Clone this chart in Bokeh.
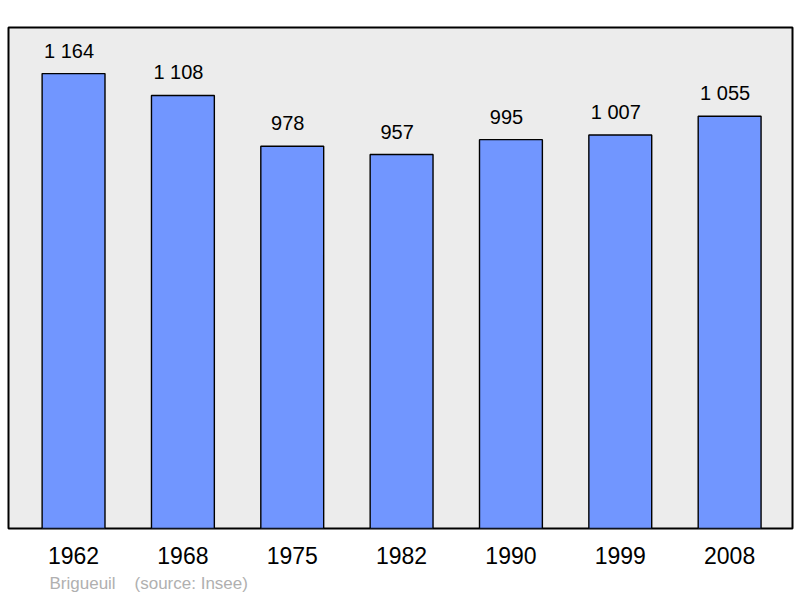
from bokeh.plotting import figure
from bokeh.models import ColumnDataSource, FixedTicker, Range1d, Title
from bokeh.core.properties import value
from bokeh.embed import file_html
from bokeh.resources import INLINE

years = ["1962", "1968", "1975", "1982", "1990", "1999", "2008"]
population = [1164, 1108, 978, 957, 995, 1007, 1055]
value_labels = ["1 164", "1 108", "978", "957", "995", "1 007", "1 055"]
town = "Brigueuil"
source = "(source: Insee)"

xs = list(range(len(years)))
src = ColumnDataSource(dict(x=xs, top=population, lab=value_labels))

FONT = "Liberation Sans"

p = figure(width=800, height=598, output_backend="svg", toolbar_location=None,
           x_range=Range1d(-0.595, 6.575), y_range=Range1d(0, 1282),
           min_border_left=8, min_border_right=8, min_border_top=27, min_border_bottom=70)
p.background_fill_color = "#ececec"
p.border_fill_color = "white"
p.outline_line_color = "black"
p.outline_line_width = 2
p.xgrid.visible = False
p.ygrid.visible = False
p.yaxis.visible = False

p.vbar(x="x", top="top", width=0.575, source=src, fill_color="#7196ff",
       line_color="black", line_width=1.4)
p.text(x="x", y="top", text="lab", source=src, text_align="center",
       text_baseline="alphabetic", x_offset=-4.5, y_offset=-23, text_font=value(FONT),
       text_font_size="20px", text_color="black")

ax = p.xaxis[0]
ax.ticker = FixedTicker(ticks=xs)
ax.major_label_overrides = {i: y for i, y in zip(xs, years)}
ax.major_tick_line_color = None
ax.minor_tick_line_color = None
ax.axis_line_color = None
ax.major_label_text_font = FONT
ax.major_label_text_font_size = "23px"
ax.major_label_text_color = "black"
ax.major_label_standoff = 12

footer = Title(text=town + "\u00a0" * 4 + source, align="left", offset=41,
               text_font=FONT, text_font_size="17px", text_font_style="normal",
               text_color="#b0b0b0", standoff=10)
p.add_layout(footer, "below")

open("out.html", "w").write(file_html(p, INLINE))
